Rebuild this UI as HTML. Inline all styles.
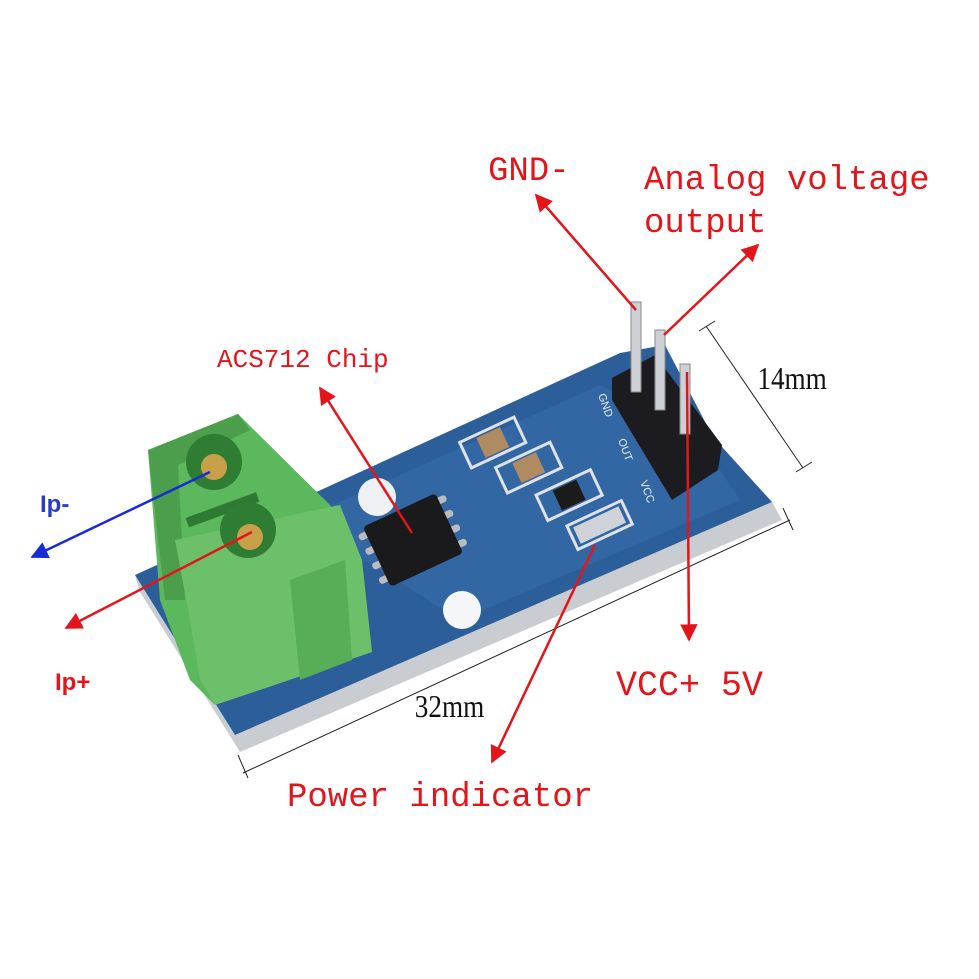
<!DOCTYPE html>
<html><head><style>
html,body{margin:0;padding:0;background:#fff;}
svg{display:block;}
.r{font-family:"Liberation Mono",monospace;fill:#e4141b;}
.d{font-family:"Liberation Serif",serif;fill:#111;}
</style></head><body>
<svg width="979" height="979" viewBox="0 0 979 979" xmlns="http://www.w3.org/2000/svg">
<defs>
<marker id="ar" viewBox="0 0 10 10" refX="9" refY="5" markerWidth="7" markerHeight="7" orient="auto-start-reverse"><path d="M0,0 L10,5 L0,10 z" fill="#e4141b"/></marker>
<marker id="ab" viewBox="0 0 10 10" refX="9" refY="5" markerWidth="7" markerHeight="7" orient="auto-start-reverse"><path d="M0,0 L10,5 L0,10 z" fill="#1a2ad6"/></marker>
</defs>
<!-- board silver edge -->
<polygon points="135,575 140,592 240,752 782,520 772,502 235,735" fill="#c9ccd0"/>
<!-- board -->
<polygon points="135,575 620,353 665,345 713,437 772,502 235,735" fill="#2c5f9a"/>
<polygon points="300,520 600,385 700,440 740,500 460,620" fill="#3a70ad" opacity="0.5"/>
<!-- holes -->
<circle cx="377" cy="497" r="19" fill="#eef1f4"/>
<circle cx="462" cy="610" r="19" fill="#f4f6f8"/>
<!-- chip -->
<g transform="translate(413,540) rotate(-25)">
<g fill="#b9bcc0">
<rect x="-48" y="-28" width="10" height="7" rx="3"/><rect x="-48" y="-12" width="10" height="7" rx="3"/><rect x="-48" y="4" width="10" height="7" rx="3"/><rect x="-48" y="20" width="10" height="7" rx="3"/>
<rect x="38" y="-28" width="10" height="7" rx="3"/><rect x="38" y="-12" width="10" height="7" rx="3"/><rect x="38" y="4" width="10" height="7" rx="3"/><rect x="38" y="20" width="10" height="7" rx="3"/>
</g>
<rect x="-40" y="-33" width="80" height="66" rx="4" fill="#1a1a1c"/>
</g>
<!-- SMD parts -->
<g transform="rotate(-25 540 480)" fill="none" stroke="#dfe3e8" stroke-width="3">
<rect x="483" y="412" width="60" height="28"/><rect x="505" y="450" width="60" height="28"/>
<rect x="530" y="492" width="60" height="28"/><rect x="545" y="533" width="60" height="26"/>
</g>
<g transform="rotate(-25 540 480)">
<rect x="500" y="415" width="26" height="22" fill="#b08a60"/>
<rect x="522" y="453" width="26" height="22" fill="#b08a60"/>
<rect x="547" y="495" width="26" height="22" fill="#1b1b1b"/>
<rect x="550" y="537" width="50" height="18" fill="#cfd3d8"/>
</g>
<!-- header -->
<polygon points="612,378 655,355 722,445 718,470 672,500 612,400" fill="#1c1c20"/>
<g fill="#cdd0d4" stroke="#888" stroke-width="1">
<rect x="631" y="302" width="10" height="90"/>
<rect x="655" y="330" width="10" height="80"/>
<rect x="680" y="364" width="10" height="70"/>
</g>
<g font-family="Liberation Sans,sans-serif" font-size="11" fill="#e8ecf0">
<text transform="translate(598,395) rotate(70)">GND</text>
<text transform="translate(618,440) rotate(70)">OUT</text>
<text transform="translate(640,482) rotate(70)">VCC</text>
</g>
<!-- terminal block -->
<polygon points="148,450 238,414 330,505 360,560 372,652 215,705 190,680 160,600" fill="#5cb85c"/>
<polygon points="148,450 238,414 250,430 178,465 185,600 165,600" fill="#4a9e4c"/>
<polygon points="175,540 340,505 362,560 372,652 215,705 200,680 190,620" fill="#6cc06a"/>
<polygon points="290,580 345,560 352,660 300,680" fill="#58ad57"/>
<rect x="185" y="505" width="75" height="10" fill="#2f7a33" transform="rotate(-20 222 510)"/>
<circle cx="214" cy="462" r="28" fill="#2e7d32"/>
<circle cx="248" cy="530" r="28" fill="#2e7d32"/>
<circle cx="214" cy="467" r="13" fill="#c9a04a"/>
<circle cx="250" cy="537" r="13" fill="#c9a04a"/>
<!-- dimension lines -->
<g stroke="#222" stroke-width="1" fill="none">
<line x1="706" y1="326" x2="803" y2="468"/><line x1="699" y1="331" x2="715" y2="321"/><line x1="796" y1="472" x2="812" y2="462"/>
<line x1="243" y1="773" x2="790" y2="520"/><line x1="238" y1="755" x2="248" y2="778"/><line x1="783" y1="508" x2="793" y2="530"/>
</g>
<!-- arrows -->
<g stroke="#e4141b" stroke-width="2.5" fill="none">
<line x1="636" y1="310" x2="536" y2="195" marker-end="url(#ar)"/>
<line x1="664" y1="335" x2="758" y2="245" marker-end="url(#ar)"/>
<line x1="687" y1="372" x2="689" y2="640" marker-end="url(#ar)"/>
<line x1="412" y1="533" x2="320" y2="388" marker-end="url(#ar)"/>
<line x1="595" y1="545" x2="492" y2="762" marker-end="url(#ar)"/>
<line x1="252" y1="532" x2="66" y2="628" marker-end="url(#ar)"/>
</g>
<line x1="210" y1="472" x2="32" y2="557" stroke="#1a2ad6" stroke-width="2.5" marker-end="url(#ab)"/>
<!-- labels -->
<text class="r" x="488" y="180" font-size="34">GND-</text>
<text class="r" x="644" y="189" font-size="34">Analog voltage</text>
<text class="r" x="644" y="232" font-size="34">output</text>
<text class="r" x="217" y="367" font-size="26">ACS712 Chip</text>
<text class="r" x="616" y="695" font-size="35">VCC+ 5V</text>
<text class="r" x="287" y="806" font-size="34">Power indicator</text>
<text class="d" x="757" y="389" font-size="32" transform="scale(0.85 1) translate(134 0)">14mm</text>
<text class="d" x="415" y="717" font-size="32" transform="scale(0.85 1) translate(73 0)">32mm</text>
<text x="40" y="512" font-family="Liberation Sans,sans-serif" font-weight="bold" font-size="24" fill="#2b3bc9">Ip-</text>
<text x="55" y="690" font-family="Liberation Sans,sans-serif" font-weight="bold" font-size="24" fill="#e4141b">Ip+</text>
</svg>
</body></html>
